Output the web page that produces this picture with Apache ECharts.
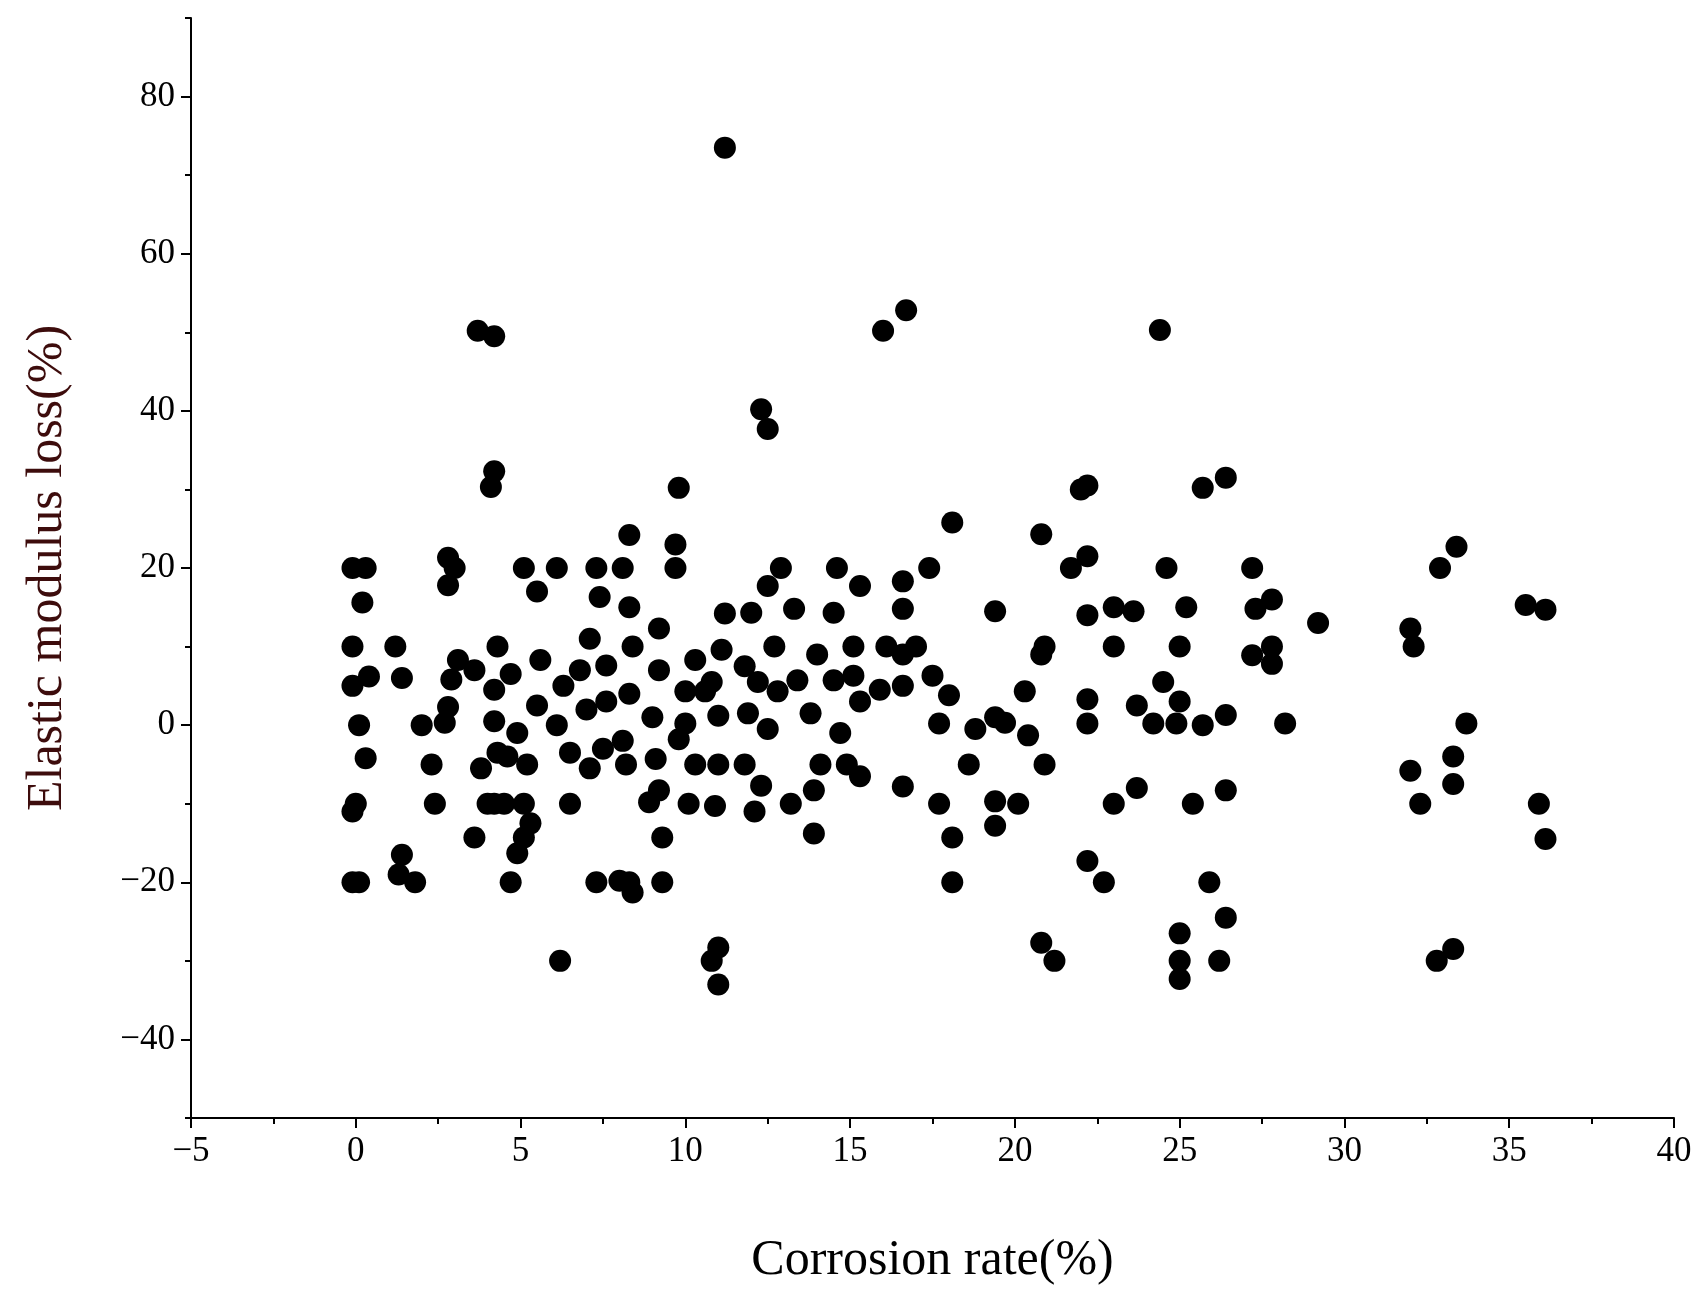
<!DOCTYPE html>
<html><head><meta charset="utf-8">
<script src="https://cdn.jsdelivr.net/npm/echarts@6/dist/echarts.min.js"></script>
<style>html,body{margin:0;padding:0;background:#fff}#c{width:1708px;height:1296px}</style>
</head><body><div id="c"></div>
<script>
const corrosion = [-0.1,0.3,0.2,-0.1,-0.1,0.1,0.4,0.3,0,-0.1,-0.1,0.1,1.2,1.4,1.4,1.3,1.8,2.0,2.3,2.4,2.7,2.8,2.8,2.8,3.0,2.9,3.1,3.6,3.6,3.7,3.8,4.0,4.1,4.2,4.2,4.2,4.2,4.3,4.3,4.2,4.5,4.6,4.7,4.7,4.9,4.9,5.1,5.1,5.2,5.1,5.3,5.5,5.5,5.6,6.1,6.1,6.2,6.3,6.5,6.5,6.8,7.0,7.1,7.1,7.3,7.4,7.3,7.6,7.5,7.6,8.1,8.1,8.2,8.0,8.3,8.3,8.4,8.3,8.4,8.3,8.9,9.0,9.1,9.2,9.2,9.2,9.3,9.3,9.7,9.7,9.8,9.8,10.0,10.0,10.1,10.3,10.3,10.6,10.8,10.8,10.9,11.0,11.0,11.0,11.0,11.1,11.2,11.2,11.8,11.8,11.9,12.0,12.1,12.2,12.3,12.3,12.5,12.5,12.5,12.7,12.8,12.9,13.2,13.3,13.4,13.8,13.9,13.9,14.0,14.1,14.5,14.5,14.6,14.7,14.9,15.1,15.1,15.3,15.3,15.3,15.9,16.0,16.1,16.7,16.6,16.6,16.6,16.6,16.6,17.0,17.4,17.5,17.7,17.7,18.0,18.1,18.1,18.1,18.6,18.8,19.4,19.4,19.4,19.4,19.7,20.1,20.3,20.4,20.8,20.9,20.8,20.9,20.8,21.2,21.7,22.0,22.2,22.2,22.2,22.2,22.2,22.2,22.7,23.0,23.0,23.0,23.6,23.7,23.7,24.2,24.4,24.5,24.6,25.0,25.0,24.9,25.2,25.4,25.0,25.0,25.0,25.7,25.7,25.9,26.2,26.4,26.4,26.4,26.4,27.2,27.2,27.3,27.8,27.8,27.8,28.2,29.2,32.0,32.1,32.0,32.3,32.9,32.8,33.4,33.3,33.3,33.3,33.7,35.5,35.9,36.1,36.1];
const modulusLoss = [20,20,15.6,10,5,0,6.2,-4.2,-10,-11,-20,-20,10,6,-16.5,-19,-20,0,-5,-10,0.3,2.3,21.3,17.8,20,5.8,8.3,7,-14.3,50.2,-5.5,-10,30.3,32.3,49.5,4.5,0.5,10,-3.5,-10,-10,-4,6.5,-20,-1,-16.3,20,-10,-5,-14.3,-12.5,17,2.5,8.3,20,0,-30,5,-3.5,-10,7,2,11,-5.5,20,16.3,-20,7.6,-3,3,20,-2,-5,-19.8,-20,24.2,-21.3,15,10,4,-9.8,1,-4.3,12.3,7,-8.3,-14.3,-20,23,20,30.2,-1.8,4.3,0.2,-10,-5,8.3,4.3,5.5,-30,-10.3,-5,1.2,-28.3,-33,9.6,14.2,73.5,7.5,-5,1.5,14.3,-11,5.5,-7.7,40.2,37.7,-0.5,17.7,10,4.3,20,-10,14.8,5.7,1.5,-8.3,-13.8,9,-5,14.3,5.7,20,-1,-5,10,6.3,3,17.7,-6.5,4.5,50.2,10,52.8,18.3,14.8,9,5,-7.8,10,20,6.3,-10,0.2,3.8,25.8,-14.3,-20,-5,-0.5,1,14.5,-9.7,-12.8,0.3,-10,4.3,-1.3,24.3,10,9,-5,-27.7,-30,20,30,30.5,21.5,14,3.3,0.2,-17.3,-20,15,10,-10,14.5,2.5,-8,0.2,50.3,5.5,20,10,3,0.2,15,-10,-26.5,-30,-32.3,30.2,0,-20,-30,31.5,1.3,-8.3,-24.5,20,8.9,14.8,16,10,7.8,0.2,13,12.3,10,-5.8,-10,20,-30,22.7,-4,-7.5,-28.5,0.2,15.3,-10,14.7,-14.5];
const yMajor = [-40,-20,0,20,40,60,80];
const yMinor = [-50,-30,-10,10,30,50,70,90];
const points = corrosion.map((x,i)=>[x,modulusLoss[i]]);
const font = 'Liberation Serif';
const chart = echarts.init(document.getElementById('c'));
chart.setOption({
  animation:false,
  grid:{left:191,right:34,top:18,bottom:178},
  xAxis:{type:'value',min:-5,max:40,interval:5,
    name:'Corrosion rate(%)',nameLocation:'middle',nameGap:118,
    nameTextStyle:{fontFamily:font,fontSize:50,color:'#000'},
    axisLine:{onZero:false,lineStyle:{color:'#000',width:2}},
    axisTick:{length:10,lineStyle:{color:'#000',width:2}},
    minorTick:{show:true,splitNumber:2,length:6,lineStyle:{color:'#000',width:2}},
    axisLabel:{fontFamily:font,fontSize:35,color:'#000',margin:16,formatter:v=>v<0?'\u2212'+(-v):v},
    splitLine:{show:false}},
  yAxis:[{type:'value',min:-50,max:90,interval:10,
    name:'Elastic modulus loss(%)',nameLocation:'middle',nameGap:118,
    nameTextStyle:{fontFamily:font,fontSize:50,color:'#3d0c0c'},
    axisLine:{show:true,onZero:false,lineStyle:{color:'#000',width:2}},
    axisTick:{length:10,customValues:yMajor,lineStyle:{color:'#000',width:2}},
    axisLabel:{fontFamily:font,fontSize:35,color:'#000',margin:16,customValues:yMajor,formatter:v=>v<0?'\u2212'+(-v):v},
    splitLine:{show:false}},
   {type:'value',min:-50,max:90,interval:10,position:'left',
    axisLine:{show:false,onZero:false},
    axisTick:{length:6,customValues:yMinor,lineStyle:{color:'#000',width:2}},
    axisLabel:{show:false},splitLine:{show:false}}],
  series:[{type:'scatter',data:points,symbolSize:22,itemStyle:{color:'#000',opacity:1}}]
});
</script></body></html>
